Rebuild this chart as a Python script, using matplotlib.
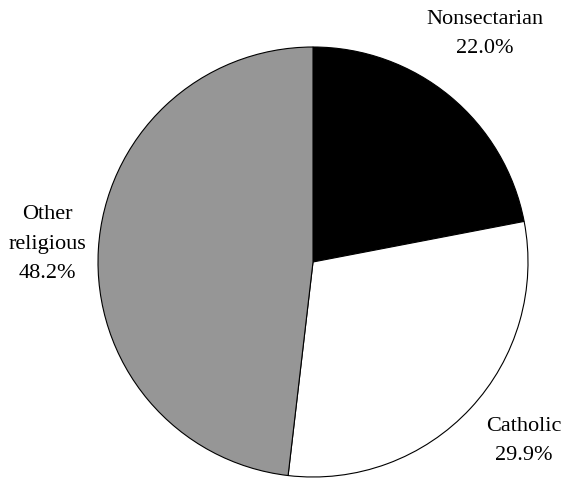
import matplotlib
matplotlib.use('Agg')
import matplotlib.pyplot as plt

categories = ['Nonsectarian', 'Catholic', 'Other\nreligious']
shares = [22.0, 29.9, 48.2]
colors = ['#000000', '#ffffff', '#969696']

plt.rcParams['font.family'] = ['Liberation Serif', 'DejaVu Serif']

W, H = 569, 479
fig = plt.figure(figsize=(W / 100, H / 100), dpi=100)
ax = fig.add_axes([0, 0, 1, 1])

ax.pie(shares, colors=colors, startangle=90, counterclock=False,
       center=(313, H - 262), radius=215,
       wedgeprops=dict(edgecolor='black', linewidth=0.8))

# pie() resets the limits, so set them afterwards (pixel units, y up)
ax.set_xlim(0, W)
ax.set_ylim(0, H)
ax.set_aspect('equal')
ax.axis('off')

label_pos = [(485, H - 34), (524, H - 441), (47, H - 244)]
for name, val, (x, y) in zip(categories, shares, label_pos):
    ax.text(x, y, f'{name}\n{val:.1f}%', ha='center', va='center',
            fontsize=16, linespacing=1.75)

fig.savefig('out.png', dpi=100)
